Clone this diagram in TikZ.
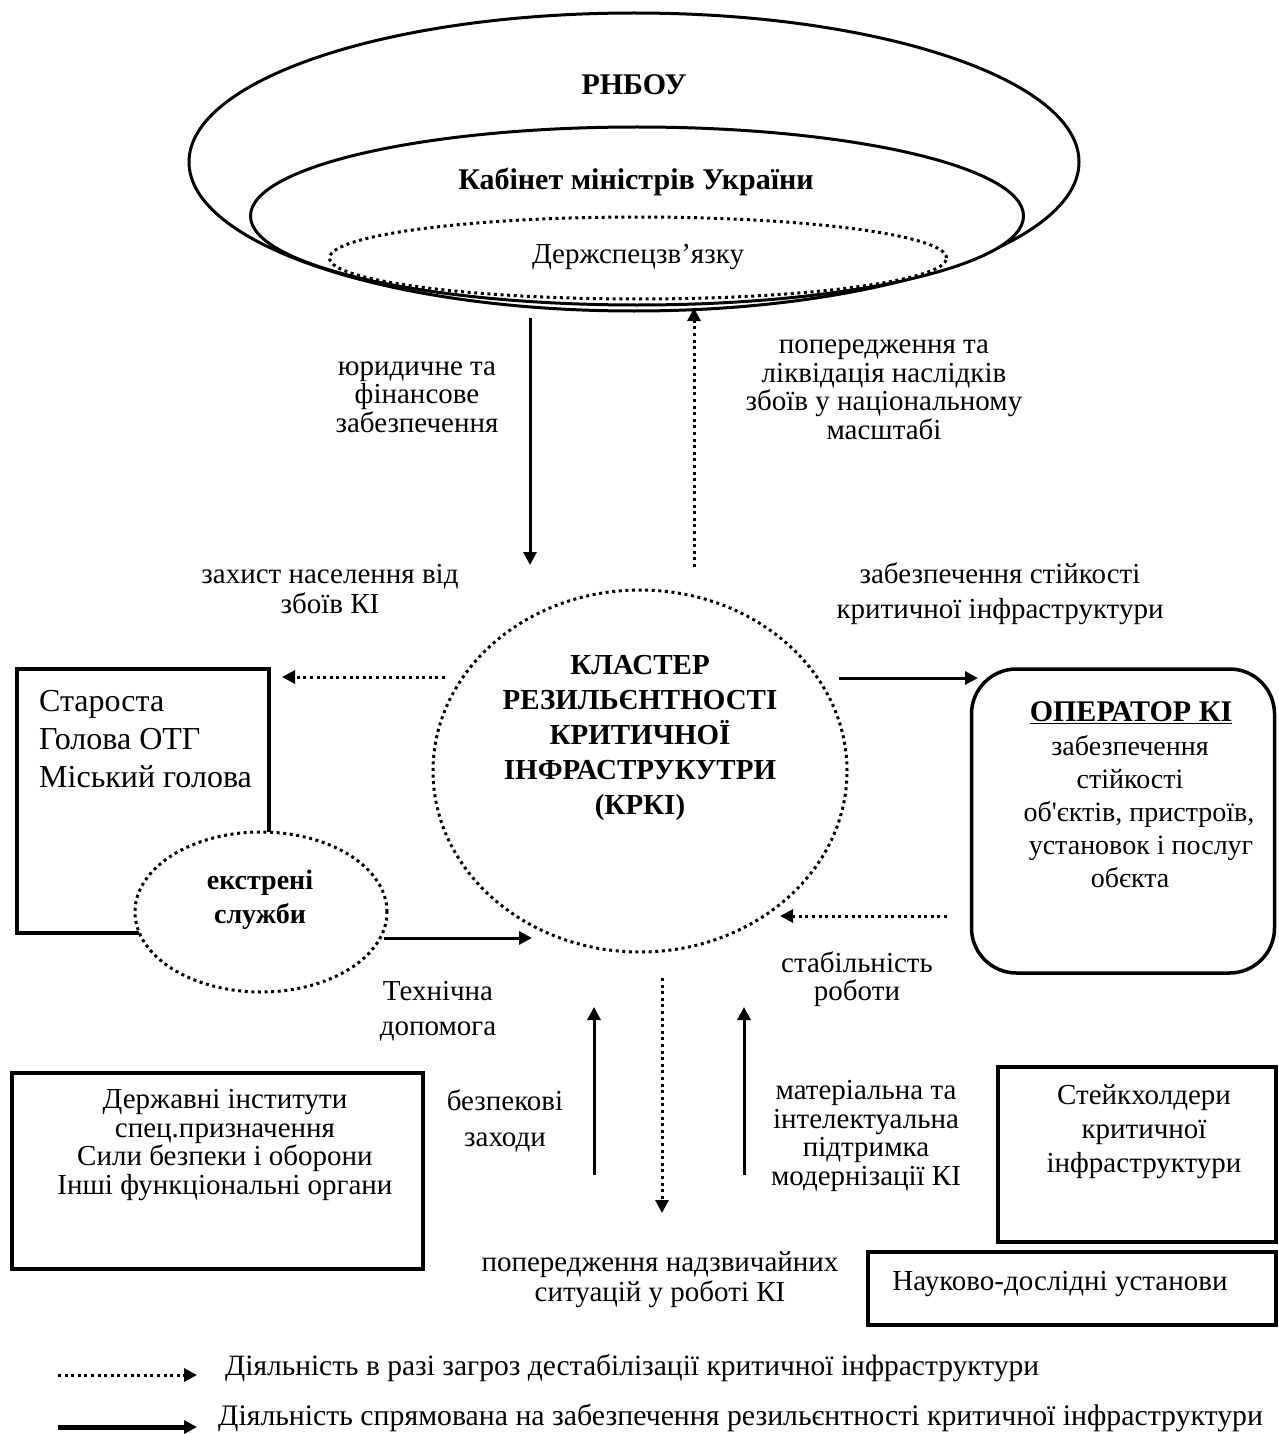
\documentclass[tikz,border=0pt]{standalone}
\usepackage{fontspec}
\setmainfont{Liberation Serif}
\usetikzlibrary{shapes.geometric,arrows.meta}
\begin{document}
\begin{tikzpicture}[x=1pt,y=-1pt,
  solidln/.style={line width=3pt},
  dotln/.style={line width=3pt, dash pattern=on 3pt off 3.6pt},
  tipa/.style={-{Triangle[length=13pt,width=13pt]}},
  lbl/.style={font=\fontsize{29}{28.5}\selectfont, align=center, inner sep=0pt},
  blbl/.style={font=\fontsize{29}{35}\selectfont\bfseries, align=center, inner sep=0pt},
  oval/.style={ellipse, draw, inner sep=0pt, fill=white},
  boxx/.style={draw, line width=4pt, inner sep=0pt}
]
\useasboundingbox[fill=white] (0,0) rectangle (1278,1434);

% top ellipses
\node[oval, solidln, minimum width=890pt, minimum height=298pt] (rnbo) at (634,162) {};
\node[oval, solidln, minimum width=773pt, minimum height=178pt] (kmu) at (637,216) {};
\node[oval, dotln, minimum width=617pt, minimum height=82pt] (dss) at (638,258) {};
\node[blbl, font=\fontsize{30}{35}\selectfont\bfseries] (rnbot) at (634,85) {РНБОУ};
\node[blbl, font=\fontsize{30}{35}\selectfont\bfseries] (kmut) at (636,182) {Кабінет міністрів України};
\node[lbl] (dsst) at (638,257) {Держспецзв’язку};

% cluster
\node[oval, dotln, minimum width=414pt, minimum height=362pt] (krki) at (640,771) {};
\node[blbl] (krkit) at (640,738) {КЛАСТЕР\\РЕЗИЛЬЄНТНОСТІ\\КРИТИЧНОЇ\\ІНФРАСТРУКУТРИ\\(КРКІ)};

% left box and emergency services
\node[boxx, minimum width=252pt, minimum height=264pt] (star) at (143,801) {};
\node[inner sep=0pt, anchor=west, align=left, font=\fontsize{32}{38}\selectfont] (start) at (39,739) {Староста\\Голова ОТГ\\Міський голова};
\node[oval, dotln, minimum width=252pt, minimum height=160pt] (ekstr) at (261,912) {};
\node[blbl, font=\fontsize{28}{34}\selectfont\bfseries] (ekstrt) at (260,900) {екстрені\\служби};

% operator box
\node[draw, line width=3.5pt, rounded corners=45pt, minimum width=303pt, minimum height=304pt, inner sep=0pt] (oper) at (1123,821) {};
\node[inner sep=0pt, font=\fontsize{30}{33}\selectfont\bfseries] (opert) at (1131,713) {\underline{ОПЕРАТОР КІ}};
\node[lbl, align=flush center, font=\fontsize{28}{33}\selectfont, text width=300pt] (operd) at (1130,812) {забезпечення\hspace*{24pt}\\стійкості\hspace*{26pt}\\\hspace*{18pt}об\textquotesingle єктів, пристроїв,\\\hspace*{22pt}установок і послуг\\обєкта};

% bottom boxes
\node[boxx, minimum width=411pt, minimum height=196pt] (derzh) at (217.5,1171) {};
\node[lbl] (derzht) at (225,1145) {Державні інститути\\спец.призначення\\Сили безпеки і оборони\\Інші функціональні органи};
\node[boxx, minimum width=278pt, minimum height=175pt] (stake) at (1137,1154.5) {};
\node[lbl, font=\fontsize{29}{34}\selectfont] (staket) at (1144,1132) {Стейкхолдери\\критичної\\інфраструктури};
\node[boxx, minimum width=408pt, minimum height=73pt] (nauk) at (1072,1288.5) {};
\node[lbl] (naukt) at (1060,1284) {Науково-дослідні установи};

% labels
\node[lbl] (l1) at (417,397) {юридичне та\\фінансове\\забезпечення};
\node[lbl] (l2) at (884,390) {попередження та\\ліквідація наслідків\\збоїв у національному\\масштабі};
\node[lbl, font=\fontsize{29}{30}\selectfont] (l3) at (330,589) {захист населення від\\збоїв КІ};
\node[lbl, font=\fontsize{29}{35}\selectfont] (l4) at (1000,594) {забезпечення стійкості\\критичної інфраструктури};
\node[lbl] (l5) at (857,979) {стабільність\\роботи};
\node[lbl, font=\fontsize{29}{35}\selectfont] (l6) at (438,1011) {Технічна\\допомога};
\node[lbl, font=\fontsize{29}{36}\selectfont] (l7) at (505,1121) {безпекові\\заходи};
\node[lbl] (l8) at (866,1136) {матеріальна та\\інтелектуальна\\підтримка\\модернізації КІ};
\node[lbl, font=\fontsize{29}{30}\selectfont] (l9) at (660,1280) {попередження надзвичайних\\ситуацій у роботі КІ};

% connector end points
\coordinate (a1s) at (530,318);  \coordinate (a1e) at (530,565);
\coordinate (a2s) at (694,567);  \coordinate (a2e) at (694,308);
\coordinate (a3s) at (445,677);  \coordinate (a3e) at (282,677);
\coordinate (a4s) at (839,678);  \coordinate (a4e) at (978,678);
\coordinate (a5s) at (947,916);  \coordinate (a5e) at (780,916);
\coordinate (a6s) at (384,938);  \coordinate (a6e) at (532,938);
\coordinate (a7s) at (662,978);  \coordinate (a7e) at (662,1213);
\coordinate (a8s) at (594,1175); \coordinate (a8e) at (594,1007);
\coordinate (a9s) at (744,1175); \coordinate (a9e) at (744,1007);

\draw[solidln, tipa] (a1s) -- (a1e);
\draw[dotln, tipa] (a2s) -- (a2e);
\draw[dotln, tipa] (a3s) -- (a3e);
\draw[solidln, tipa] (a4s) -- (a4e);
\draw[dotln, tipa] (a5s) -- (a5e);
\draw[solidln, tipa] (a6s) -- (a6e);
\draw[dotln, tipa] (a7s) -- (a7e);
\draw[solidln, tipa] (a8s) -- (a8e);
\draw[solidln, tipa] (a9s) -- (a9e);

% legend
\coordinate (g1s) at (58,1375); \coordinate (g1e) at (197,1375);
\coordinate (g2s) at (58,1427); \coordinate (g2e) at (197,1427);
\draw[dotln, tipa] (g1s) -- (g1e);
\draw[line width=5pt, tipa] (g2s) -- (g2e);
\node[inner sep=0pt, anchor=west, font=\fontsize{29.5}{30}\selectfont] (g1t) at (225,1368) {Діяльність в разі загроз дестабілізації критичної інфраструктури};
\node[inner sep=0pt, anchor=west, font=\fontsize{29.8}{30}\selectfont] (g2t) at (218,1418) {Діяльність спрямована на забезпечення резильєнтності критичної інфраструктури};
\end{tikzpicture}
\end{document}
